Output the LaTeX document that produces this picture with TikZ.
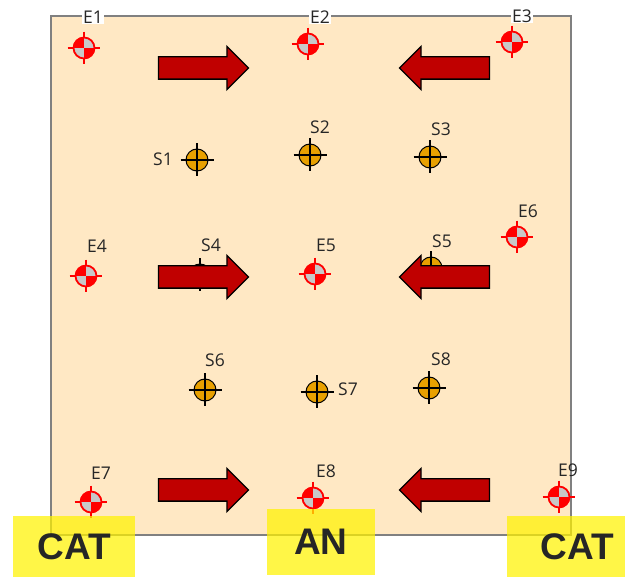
\documentclass[tikz,border=0pt]{standalone}
\usepackage{fontspec}
\setmainfont{Open Sans}
\newfontfamily\capfont{Liberation Sans}
\usetikzlibrary{shapes.arrows}

\definecolor{panel}{RGB}{255,232,196}
\definecolor{frame}{RGB}{128,128,128}
\definecolor{arrowred}{RGB}{192,0,0}
\definecolor{sfill}{RGB}{232,160,0}
\definecolor{quad}{RGB}{200,200,200}
\definecolor{ink}{RGB}{38,38,38}

\tikzstyle{board} = [rectangle, draw=frame, line width=2, fill=panel, minimum width=520, minimum height=519]
\tikzstyle{emark} = [circle, draw=red, line width=1.8, fill=quad, minimum size=21, inner sep=0,
    path picture={\fill[red] (path picture bounding box.center) rectangle (path picture bounding box.north west);
                  \fill[red] (path picture bounding box.center) rectangle (path picture bounding box.south east);}]
\tikzstyle{smark} = [circle, draw=black, line width=1, fill=sfill, minimum size=22, inner sep=0]
\tikzstyle{tag} = [font=\fontsize{17.5}{17.5}\selectfont, text=ink, inner sep=0]
\tikzstyle{edgetag} = [tag, fill=white, inner xsep=1.5, inner ysep=0.5]
\tikzstyle{push} = [single arrow, draw=black, line width=1.3, fill=arrowred, minimum height=90,
    single arrow head extend=10.5, single arrow head indent=0, inner xsep=0, inner ysep=10.5]
\tikzstyle{zone} = [rectangle, fill=yellow, fill opacity=0.72, text opacity=1, text=ink,
    font=\capfont\bfseries\fontsize{37}{37}\selectfont]

\begin{document}
\begin{tikzpicture}[x=1pt, y=-1pt]
    \useasboundingbox (0,0) rectangle (625,577);

    \node [board] (board) at (311,275.5) {};

    % survey points
    \node [emark] (e1) at (84,48) {};
    \node [emark] (e2) at (308,44) {};
    \node [emark] (e3) at (512,42) {};
    \node [emark] (e4) at (86,276) {};
    \node [emark] (e5) at (315,274) {};
    \node [emark] (e6) at (517,237) {};
    \node [emark] (e7) at (91,502) {};
    \node [emark] (e8) at (313,498) {};
    \node [emark] (e9) at (559,497) {};
    \foreach \n in {e1,e2,e3,e4,e5,e6,e7,e8,e9}
        \draw [red, line width=1.3] ([yshift=5]\n.north) -- (\n.north) (\n.south) -- ([yshift=-5]\n.south)
            ([xshift=-5]\n.west) -- (\n.west) (\n.east) -- ([xshift=5]\n.east);

    \node [smark] (s1) at (197,160) {};
    \node [smark] (s2) at (310,155) {};
    \node [smark] (s3) at (430,157) {};
    \node [smark] (s4) at (200,275) {};
    \node [smark] (s5) at (431,268) {};
    \node [smark] (s6) at (205,390) {};
    \node [smark] (s7) at (317,392) {};
    \node [smark] (s8) at (429,388) {};
    \foreach \n in {s1,s2,s3,s4,s5,s6,s7,s8}
        \draw [black, line width=1.3] ([yshift=5]\n.north) -- ([yshift=-5]\n.south)
            ([xshift=-5]\n.west) -- ([xshift=5]\n.east);

    % names
    \node [edgetag] (le1) at (93,17) {E1};
    \node [edgetag] (le2) at (320,17) {E2};
    \node [edgetag] (le3) at (522,16) {E3};
    \node [tag] (le4) at (97,246) {E4};
    \node [tag] (le5) at (326,245) {E5};
    \node [tag] (le6) at (528,211) {E6};
    \node [tag] (le7) at (101,473) {E7};
    \node [tag] (le8) at (326,471) {E8};
    \node [tag] (le9) at (568,470) {E9};
    \node [tag] (ls1) at (163,159) {S1};
    \node [tag] (ls2) at (320,127) {S2};
    \node [tag] (ls3) at (441,129) {S3};
    \node [tag] (ls4) at (211,245) {S4};
    \node [tag] (ls5) at (442,241) {S5};
    \node [tag] (ls6) at (215,360) {S6};
    \node [tag] (ls7) at (348,389) {S7};
    \node [tag] (ls8) at (441,359) {S8};

    % flow arrows
    \node [push] (r1) at (198,68) {};
    \node [push] (r2) at (198,277) {};
    \node [push] (r3) at (198,490) {};
    \node [push, shape border rotate=180] (l1) at (450,68) {};
    \node [push, shape border rotate=180] (l2) at (450,277) {};
    \node [push, shape border rotate=180] (l3) at (450,490) {};

    % zones
    \node [zone, minimum width=122, minimum height=61] (catl) at (74,546.5) {\raisebox{-2.5pt}{CAT}};
    \node [zone, minimum width=108, minimum height=66] (an) at (321,542) {AN};
    \node [zone, minimum width=118, minimum height=61] (catr) at (566,546.5) {\hspace{22pt}\raisebox{-2.5pt}{CAT}};
\end{tikzpicture}
\end{document}
